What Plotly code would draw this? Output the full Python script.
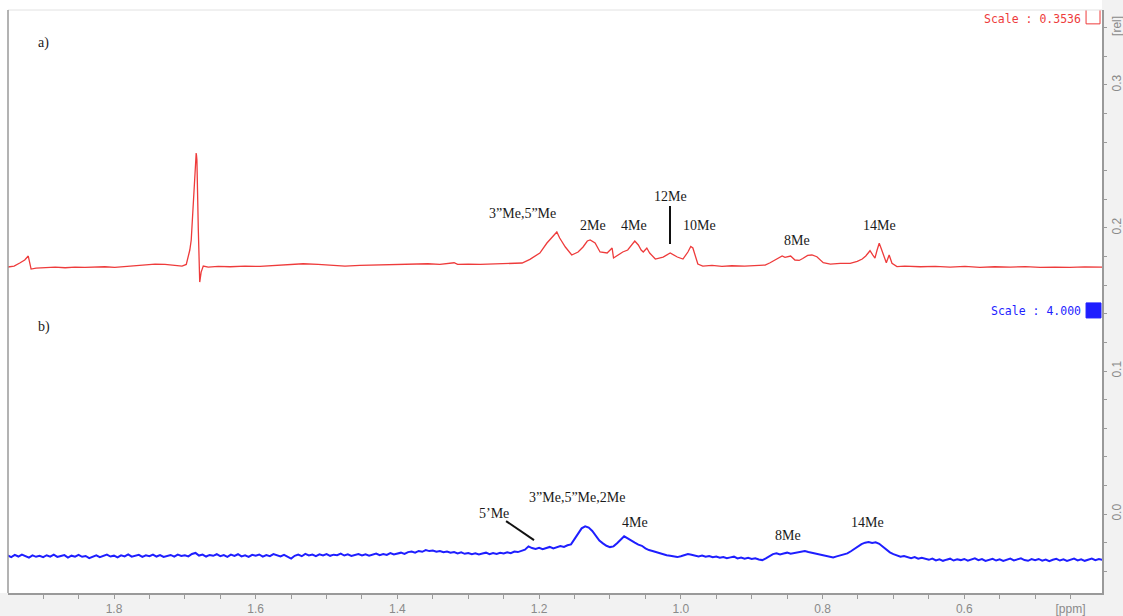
import numpy as np
import plotly.graph_objects as go

# a) red spectrum (ppm, rel)
red_ppm = [1.950, 1.941, 1.933, 1.926, 1.921, 1.919, 1.917, 1.910, 1.897, 1.883,
           1.869, 1.855, 1.841, 1.827, 1.813, 1.799, 1.785, 1.770, 1.756, 1.742,
           1.728, 1.714, 1.704, 1.698, 1.696, 1.693, 1.691, 1.689, 1.687, 1.686,
           1.684, 1.6836, 1.683, 1.681, 1.680, 1.679, 1.677, 1.674, 1.667, 1.653,
           1.636, 1.615, 1.594, 1.573, 1.552, 1.533, 1.512, 1.492, 1.474, 1.453,
           1.432, 1.410, 1.389, 1.371, 1.357, 1.340, 1.320, 1.315, 1.300, 1.283,
           1.262, 1.241, 1.224, 1.213, 1.199, 1.189, 1.182, 1.178, 1.175, 1.173,
           1.171, 1.163, 1.154, 1.145, 1.138, 1.132, 1.128, 1.121, 1.114, 1.104,
           1.099, 1.097, 1.095, 1.089, 1.082, 1.075, 1.069, 1.065, 1.060, 1.056,
           1.053, 1.048, 1.044, 1.036, 1.025, 1.015, 1.005, 0.997, 0.990, 0.986,
           0.983, 0.980, 0.976, 0.969, 0.956, 0.942, 0.928, 0.910, 0.893, 0.881,
           0.874, 0.864, 0.857, 0.853, 0.849, 0.845, 0.839, 0.833, 0.828, 0.821,
           0.815, 0.808, 0.799, 0.789, 0.775, 0.761, 0.751, 0.744, 0.739, 0.733,
           0.729, 0.726, 0.723, 0.720, 0.718, 0.715, 0.710, 0.706, 0.702, 0.695,
           0.684, 0.662, 0.641, 0.620, 0.599, 0.578, 0.557, 0.535, 0.514, 0.493,
           0.472, 0.451, 0.430, 0.404]
red_val = [0.1727, 0.1734, 0.1755, 0.1776, 0.1804, 0.1762, 0.1713, 0.1720, 0.1724, 0.1727,
           0.1722, 0.1727, 0.1724, 0.1727, 0.1729, 0.1725, 0.1731, 0.1738, 0.1745, 0.1748,
           0.1745, 0.1738, 0.1734, 0.1745, 0.1790, 0.1846, 0.1916, 0.2091, 0.2322, 0.2350,
           0.2524, 0.2510, 0.2476, 0.1986, 0.1671, 0.1622, 0.1692, 0.1734, 0.1727, 0.1731,
           0.1729, 0.1733, 0.1731, 0.1736, 0.1741, 0.1750, 0.1745, 0.1738, 0.1734, 0.1738,
           0.1741, 0.1745, 0.1748, 0.1752, 0.1750, 0.1745, 0.1757, 0.1745, 0.1748, 0.1745,
           0.1748, 0.1752, 0.1755, 0.1781, 0.1825, 0.1895, 0.1937, 0.1958, 0.1972, 0.1951,
           0.1930, 0.1867, 0.1811, 0.1832, 0.1867, 0.1909, 0.1916, 0.1895, 0.1832, 0.1825,
           0.1846, 0.1860, 0.1790, 0.1811, 0.1832, 0.1846, 0.1881, 0.1909, 0.1881, 0.1846,
           0.1832, 0.1860, 0.1825, 0.1783, 0.1797, 0.1825, 0.1797, 0.1783, 0.1832, 0.1871,
           0.1860, 0.1811, 0.1748, 0.1734, 0.1738, 0.1732, 0.1736, 0.1733, 0.1738, 0.1741,
           0.1757, 0.1788, 0.1804, 0.1795, 0.1801, 0.1804, 0.1776, 0.1773, 0.1787, 0.1808,
           0.1811, 0.1799, 0.1757, 0.1748, 0.1752, 0.1753, 0.1766, 0.1783, 0.1804, 0.1841,
           0.1811, 0.1790, 0.1846, 0.1893, 0.1867, 0.1825, 0.1757, 0.1811, 0.1753, 0.1730,
           0.1734, 0.1729, 0.1732, 0.1727, 0.1731, 0.1725, 0.1729, 0.1726, 0.1730, 0.1724,
           0.1727, 0.1724, 0.1728, 0.1726]

# b) blue spectrum, one reading every 0.005 ppm from 1.950 down to 0.405
blue_val = [
    -0.0290, -0.0301, -0.0286, -0.0297, -0.0283, -0.0296, -0.0305, -0.0289, -0.0299, -0.0292,
    -0.0302, -0.0288, -0.0298, -0.0284, -0.0300, -0.0293, -0.0287, -0.0304, -0.0291, -0.0298,
    -0.0286, -0.0299, -0.0293, -0.0308, -0.0296, -0.0289, -0.0301, -0.0294, -0.0284, -0.0297,
    -0.0291, -0.0303, -0.0289, -0.0296, -0.0282, -0.0298, -0.0290, -0.0285, -0.0299, -0.0288,
    -0.0294, -0.0283, -0.0297, -0.0287, -0.0300, -0.0291, -0.0286, -0.0298, -0.0284, -0.0293,
    -0.0288, -0.0296, -0.0279, -0.0272, -0.0290, -0.0283, -0.0297, -0.0286, -0.0292, -0.0281,
    -0.0295, -0.0287, -0.0299, -0.0284, -0.0293, -0.0281, -0.0296, -0.0289, -0.0300, -0.0285,
    -0.0292, -0.0283, -0.0298, -0.0287, -0.0294, -0.0280, -0.0291, -0.0297, -0.0286, -0.0299,
    -0.0311, -0.0292, -0.0284, -0.0295, -0.0279, -0.0290, -0.0283, -0.0294, -0.0282, -0.0289,
    -0.0280, -0.0292, -0.0284, -0.0288, -0.0277, -0.0290, -0.0282, -0.0293, -0.0285, -0.0279,
    -0.0289, -0.0281, -0.0291, -0.0284, -0.0276, -0.0288, -0.0280, -0.0286, -0.0273, -0.0283,
    -0.0276, -0.0270, -0.0279, -0.0266, -0.0262, -0.0270, -0.0258, -0.0264, -0.0252, -0.0259,
    -0.0255, -0.0264, -0.0258, -0.0267, -0.0262, -0.0271, -0.0266, -0.0275, -0.0268, -0.0278,
    -0.0272, -0.0280, -0.0274, -0.0283, -0.0276, -0.0270, -0.0281, -0.0273, -0.0279, -0.0271,
    -0.0276, -0.0268, -0.0274, -0.0262, -0.0266, -0.0255, -0.0249, -0.0226, -0.0238, -0.0244,
    -0.0236, -0.0246, -0.0238, -0.0230, -0.0241, -0.0233, -0.0224, -0.0230, -0.0218, -0.0212,
    -0.0175, -0.0135, -0.0100, -0.0086, -0.0095, -0.0118, -0.0150, -0.0185, -0.0205, -0.0222,
    -0.0231, -0.0226, -0.0204, -0.0178, -0.0156, -0.0170, -0.0188, -0.0200, -0.0214, -0.0222,
    -0.0240, -0.0252, -0.0258, -0.0266, -0.0273, -0.0280, -0.0288, -0.0292, -0.0298, -0.0301,
    -0.0295, -0.0288, -0.0280, -0.0284, -0.0291, -0.0296, -0.0290, -0.0299, -0.0294, -0.0302,
    -0.0297, -0.0306, -0.0300, -0.0309, -0.0303, -0.0298, -0.0310, -0.0304, -0.0312, -0.0306,
    -0.0314, -0.0309, -0.0318, -0.0322, -0.0310, -0.0296, -0.0280, -0.0275, -0.0282, -0.0276,
    -0.0270, -0.0278, -0.0272, -0.0266, -0.0262, -0.0258, -0.0265, -0.0271, -0.0278, -0.0284,
    -0.0289, -0.0294, -0.0299, -0.0303, -0.0296, -0.0290, -0.0284, -0.0275, -0.0260, -0.0242,
    -0.0225, -0.0210, -0.0200, -0.0196, -0.0203, -0.0198, -0.0208, -0.0230, -0.0252, -0.0268,
    -0.0280, -0.0290, -0.0298, -0.0294, -0.0303, -0.0308, -0.0301, -0.0312, -0.0306, -0.0315,
    -0.0320, -0.0311, -0.0324, -0.0316, -0.0327, -0.0319, -0.0312, -0.0325, -0.0317, -0.0322,
    -0.0314, -0.0326, -0.0318, -0.0310, -0.0323, -0.0315, -0.0328, -0.0320, -0.0313, -0.0325,
    -0.0317, -0.0328, -0.0321, -0.0312, -0.0324, -0.0316, -0.0310, -0.0322, -0.0327, -0.0315,
    -0.0323, -0.0314, -0.0326, -0.0318, -0.0330, -0.0320, -0.0313, -0.0325, -0.0317, -0.0328,
    -0.0319, -0.0312, -0.0324, -0.0316, -0.0327, -0.0318, -0.0311, -0.0323, -0.0315, -0.0320,
]
blue_ppm = np.linspace(1.950, 0.405, len(blue_val))

# peak labels
red_labels = ["a)", "3”Me,5”Me", "2Me", "4Me", "12Me", "10Me", "8Me", "14Me"]
red_lab_x = [1.910, 1.224, 1.124, 1.066, 1.015, 0.974, 0.836, 0.719]
red_lab_y = [0.3294, 0.2098, 0.2014, 0.2014, 0.2217, 0.2014, 0.1916, 0.2014]
blue_labels = ["b)", "5’Me", "3”Me,5”Me,2Me", "4Me", "8Me", "14Me"]
blue_lab_x = [1.910, 1.264, 1.147, 1.065, 0.849, 0.736]
blue_lab_y = [0.1308, 0.0007, 0.0119, -0.0056, -0.0147, -0.0056]

x_ticks = [1.8, 1.6, 1.4, 1.2, 1.0, 0.8, 0.6, 0.45]
x_text = ["1.8", "1.6", "1.4", "1.2", "1.0", "0.8", "0.6", "[ppm]"]
y_ticks = [0.0, 0.1, 0.2, 0.3, 0.34]
y_text = ["0.0", "0.1", "0.2", "0.3", "[rel]"]

fig = go.Figure()
fig.add_trace(go.Scatter(x=red_ppm, y=red_val, mode="lines",
                         line=dict(color="#ee3b3b", width=1.3), hoverinfo="skip"))
fig.add_trace(go.Scatter(x=blue_ppm, y=blue_val, mode="lines",
                         line=dict(color="#1e1eff", width=2), hoverinfo="skip"))

serif = dict(family="Liberation Serif", size=14, color="#1a1a1a")
for t, x, y in zip(red_labels + blue_labels, red_lab_x + blue_lab_x, red_lab_y + blue_lab_y):
    fig.add_annotation(x=x, y=y, text=t, showarrow=False, font=serif,
                       xanchor="left" if t.endswith(")") else "center", yanchor="middle")

mono = dict(family="DejaVu Sans Mono", size=11.5)
fig.add_annotation(x=0.4323, y=0.3462, text="Scale : 0.3536", showarrow=False,
                   xanchor="right", yanchor="middle", font=dict(color="#ee3b3b", **mono))
fig.add_annotation(x=0.4323, y=0.1420, text="Scale : 4.000", showarrow=False,
                   xanchor="right", yanchor="middle", font=dict(color="#1e1eff", **mono))

# pointer lines and scale boxes
fig.add_shape(type="line", x0=1.0153, x1=1.0153, y0=0.2154, y1=0.1888,
              line=dict(color="#111", width=2))
fig.add_shape(type="line", x0=1.2467, x1=1.2072, y0=-0.0049, y1=-0.0182,
              line=dict(color="#111", width=2))
fig.add_shape(type="rect", x0=0.4281, x1=0.4084, y0=0.3427, y1=0.3560,
              line=dict(color="#ee3b3b", width=1))
fig.add_shape(type="rect", x0=0.4281, x1=0.4070, y0=0.1371, y1=0.1476,
              line=dict(color="#1e1eff", width=1), fillcolor="#1e1eff")

# grey axis bands and frame
fig.add_shape(type="rect", xref="paper", yref="paper", x0=-0.01, x1=1.03, y0=-0.05, y1=0,
              fillcolor="#f2f2f2", line_width=0, layer="below")
fig.add_shape(type="rect", xref="paper", yref="paper", x0=1, x1=1.03, y0=-0.05, y1=1.03,
              fillcolor="#f2f2f2", line_width=0, layer="below")
fig.add_shape(type="line", xref="paper", yref="paper", x0=0, x1=1, y0=1, y1=1,
              line=dict(color="#e2e2e2", width=1))
fig.add_shape(type="line", xref="paper", yref="paper", x0=0, x1=0, y0=0, y1=1,
              line=dict(color="#9a9a9a", width=1.5))

tickfont = dict(family="Liberation Sans", size=12, color="#8a8a8a")
fig.update_xaxes(range=[1.9496, 0.4056], tickvals=x_ticks, ticktext=x_text, automargin=False,
                 ticks="outside", ticklen=4, tickcolor="#9a9a9a", tickfont=tickfont,
                 minor=dict(dtick=0.05, tick0=0, ticks="outside", ticklen=4, tickcolor="#9a9a9a"),
                 showline=True, linecolor="#9a9a9a", linewidth=1.5,
                 showgrid=False, zeroline=False)
fig.update_yaxes(range=[-0.0552, 0.3524], side="right", tickvals=y_ticks, ticktext=y_text,
                 automargin=False, tickangle=-90, ticks="outside", ticklen=3,
                 tickcolor="#9a9a9a", tickfont=tickfont,
                 minor=dict(dtick=0.02, tick0=0, ticks="outside", ticklen=3, tickcolor="#9a9a9a"),
                 showline=True, linecolor="#9a9a9a", linewidth=1.5,
                 showgrid=False, zeroline=False)
fig.update_layout(width=1123, height=616, margin=dict(l=8, r=21, t=10, b=23),
                  paper_bgcolor="white", plot_bgcolor="white", showlegend=False)
fig.write_html("out.html", config={"displayModeBar": False},
               post_script="document.body.style.margin='0';")
